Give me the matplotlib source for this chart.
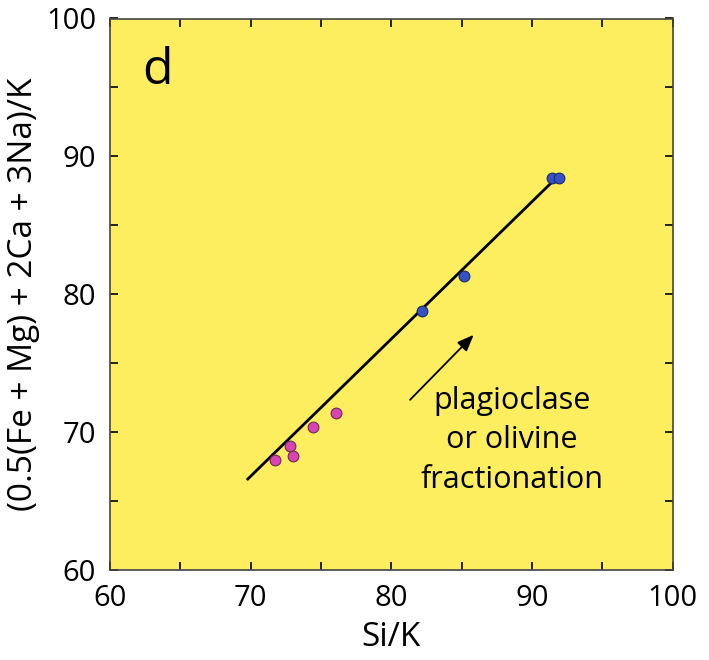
import matplotlib.pyplot as plt
from matplotlib.ticker import MultipleLocator

plt.rcParams['font.family'] = ['Open Sans', 'DejaVu Sans']

# 数据：粉色点与蓝色点 (Si/K, (0.5(Fe+Mg)+2Ca+3Na)/K)
pink_x = [71.7, 72.8, 73.0, 74.4, 76.1]
pink_y = [68.0, 69.0, 68.3, 70.4, 71.4]
blue_x = [82.2, 85.2, 91.4, 91.9]
blue_y = [78.8, 81.3, 88.4, 88.4]

# 拟合线端点
line_x = [69.8, 91.5]
line_y = [66.6, 88.2]

# 箭头与注释
arrow_start = (81.2, 72.2)
arrow_end = (86.0, 77.2)
note_text = "plagioclase\nor olivine\nfractionation"
note_pos = (88.6, 69.4)

fig = plt.figure(figsize=(7.09, 6.6), dpi=100)
ax = fig.add_axes([110 / 709, 90 / 660, 562.5 / 709, 551.5 / 660])
ax.set_facecolor("#fdee60")

ax.plot(line_x, line_y, color="black", lw=2, zorder=2)
ax.scatter(pink_x, pink_y, s=60, color="#d844b4", edgecolor="#6a2a55",
           linewidth=0.8, zorder=3)
ax.scatter(blue_x, blue_y, s=60, color="#3452c4", edgecolor="#1c2a66",
           linewidth=0.8, zorder=3)

ax.annotate("", xy=arrow_end, xytext=arrow_start,
            arrowprops=dict(arrowstyle="-|>,head_length=1.0,head_width=0.4",
                            color="black", lw=1.3))
ax.text(note_pos[0], note_pos[1], note_text, ha="center", va="center",
        fontsize=22, linespacing=1.4)
ax.text(62.3, 96.2, "d", fontsize=36, ha="left", va="center")

ax.set_xlim(60, 100)
ax.set_ylim(60, 100)
ax.xaxis.set_major_locator(MultipleLocator(10))
ax.yaxis.set_major_locator(MultipleLocator(10))
ax.xaxis.set_minor_locator(MultipleLocator(5))
ax.yaxis.set_minor_locator(MultipleLocator(5))
ax.tick_params(which="both", direction="in", top=True, right=True,
               labelsize=21, pad=10, width=1.2, length=6)
ax.set_xlabel("Si/K", fontsize=24, labelpad=6)
ax.set_ylabel("(0.5(Fe + Mg) + 2Ca + 3Na)/K", fontsize=24, labelpad=4)
for s in ax.spines.values():
    s.set_linewidth(1.2)
    s.set_color("#444444")

plt.savefig("out.png", dpi=100)
